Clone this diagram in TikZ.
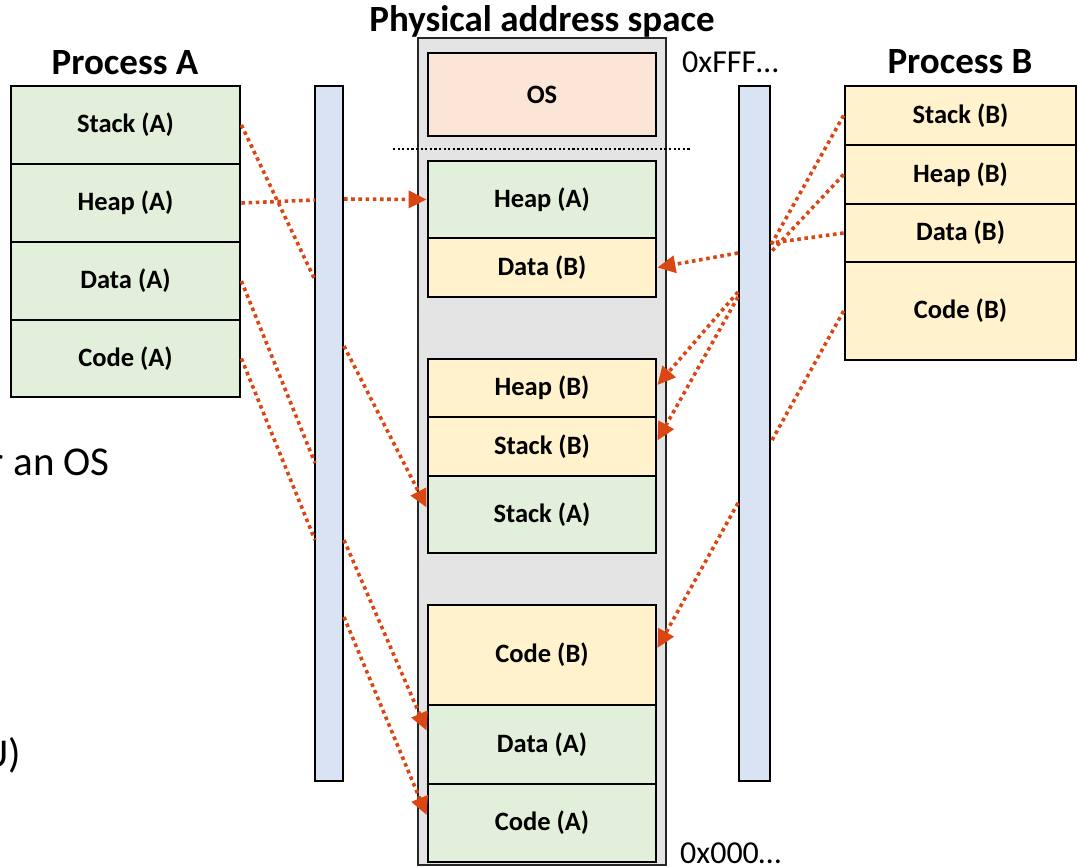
\documentclass[tikz,border=0pt]{standalone}
\usepackage{fontspec}
\setmainfont{Carlito}
\usetikzlibrary{arrows.meta}
\definecolor{vgreen}{HTML}{E2EFDA}
\definecolor{vyellow}{HTML}{FFF2CC}
\definecolor{vpeach}{HTML}{FBE5D6}
\definecolor{vblue}{HTML}{DAE3F3}
\definecolor{vgray}{HTML}{E4E4E4}
\definecolor{vorange}{RGB}{219,71,19}
\tikzset{
  seg/.style={draw=black, line width=2.8pt, minimum width=#1, inner sep=0pt, font=\bfseries\fontsize{26.5}{28}\selectfont},
  segA/.style={seg=229pt, fill=vgreen},
  segB/.style={seg=231pt, fill=vyellow},
  physA/.style={seg=228pt, fill=vgreen},
  physB/.style={seg=228pt, fill=vyellow},
  bar/.style={draw=black, line width=2.8pt, fill=vblue, minimum width=#1, minimum height=695pt, inner sep=0pt},
  title/.style={font=\bfseries\fontsize{37}{40}\selectfont, inner sep=0pt},
  addr/.style={font=\fontsize{32}{35}\selectfont, inner sep=0pt},
  side/.style={font=\fontsize{41}{44}\selectfont, inner sep=0pt},
  link/.style={draw=vorange, line width=3.6pt, dash pattern=on 3.6pt off 3.6pt},
  maplink/.style={link, -{Triangle[length=18pt,width=17pt]}},
}
\begin{document}
\begin{tikzpicture}[x=1pt,y=-1pt]
\useasboundingbox (0,0) rectangle (1078,867);
\clip (0,0) rectangle (1078,867);

% side text (partially cut, as in the reference)
\node[side, anchor=east] (side1) at (110,462) {r an OS};
\node[side, anchor=east] (side2) at (21,755) {U)};

% titles
\node[title] (tA) at (125,63) {Process A};
\node[title] (tP) at (542,21) {Physical address space};
\node[title] (tB) at (960,62) {Process B};

% physical memory background
\node[draw=black!85, line width=2.4pt, fill=vgray, minimum width=248pt, minimum height=827pt, inner sep=0pt] (phys) at (542,451.5) {};
\draw[black, line width=2.2pt, dash pattern=on 2.2pt off 2.4pt] (393,149) coordinate (dl) -- (690,149) coordinate (dr);

% address labels
\node[addr, anchor=west] (hi) at (682,62) {0xFFF…};
\node[addr, anchor=west] (lo) at (680,853) {0x000…};

% Process A
\node[segA, minimum height=78pt] (vStackA) at (125.5,125) {Stack (A)};
\node[segA, minimum height=78pt] (vHeapA) at (125.5,203) {Heap (A)};
\node[segA, minimum height=78pt] (vDataA) at (125.5,281) {Data (A)};
\node[segA, minimum height=77pt] (vCodeA) at (125.5,358.5) {Code (A)};

% Process B
\node[segB, minimum height=59pt] (vStackB) at (960.5,115.5) {Stack (B)};
\node[segB, minimum height=59pt] (vHeapB) at (960.5,174.5) {Heap (B)};
\node[segB, minimum height=58pt] (vDataB) at (960.5,233) {Data (B)};
\node[segB, minimum height=98pt] (vCodeB) at (960.5,311) {Code (B)};

% Physical segments
\node[seg=228pt, fill=vpeach, minimum height=83pt] (pOS) at (542,94.5) {OS};
\node[physA, minimum height=77pt] (pHeapA) at (542,199.5) {Heap (A)};
\node[physB, minimum height=59pt] (pDataB) at (542,267.5) {Data (B)};
\node[physB, minimum height=58pt] (pHeapB) at (542,388) {Heap (B)};
\node[physB, minimum height=59pt] (pStackB) at (542,446.5) {Stack (B)};
\node[physA, minimum height=77pt] (pStackA) at (542,514.5) {Stack (A)};
\node[physB, minimum height=100pt] (pCodeB) at (542,655) {Code (B)};
\node[physA, minimum height=79pt] (pDataA) at (542,744.5) {Data (A)};
\node[physA, minimum height=78pt] (pCodeA) at (542,823) {Code (A)};

% translation bars
\node[bar=28pt] (barA) at (329,433.5) {};
\node[bar=31pt] (barB) at (754.5,433.5) {};

% bar contact points
\coordinate (aInStack) at (315,280);
\coordinate (aInHeap) at (315,200);
\coordinate (aInData) at (315,463);
\coordinate (aInCode) at (315,540);
\coordinate (aOutStack) at (344,346);
\coordinate (aOutHeap) at (344,199);
\coordinate (aOutData) at (344,540);
\coordinate (aOutCode) at (344,617);

\coordinate (bInStack) at (771,245);
\coordinate (bInHeap) at (771,252);
\coordinate (bInData) at (771,243);
\coordinate (bInCode) at (771,442);
\coordinate (bOutData) at (738,253);
\coordinate (bOutHeap) at (738,292);
\coordinate (bOutStack) at (738,297);
\coordinate (bOutCode) at (738,503);

% Process A links
\draw[link] (vStackA.east) -- (aInStack);
\draw[link] (vHeapA.east) -- (aInHeap);
\draw[link] (vDataA.east) -- (aInData);
\draw[link] (vCodeA.east) -- (aInCode);
\draw[maplink] (aOutHeap) -- (pHeapA.west);
\draw[maplink] (aOutStack) -- ([yshift=7pt]pStackA.west);
\draw[maplink] (aOutData) -- ([yshift=14pt]pDataA.west);
\draw[maplink] (aOutCode) -- ([yshift=8pt]pCodeA.west);

% Process B links
\draw[link] (vStackB.west) -- (bInStack);
\draw[link] (vHeapB.west) -- (bInHeap);
\draw[link] (vDataB.west) -- (bInData);
\draw[link] (vCodeB.west) -- (bInCode);
\draw[maplink] (bOutData) -- (pDataB.east);
\draw[maplink] (bOutHeap) -- ([yshift=3pt]pHeapB.east);
\draw[maplink] (bOutStack) -- ([yshift=6pt]pStackB.east);
\draw[maplink] (bOutCode) -- ([yshift=7pt]pCodeB.east);
\end{tikzpicture}
\end{document}
